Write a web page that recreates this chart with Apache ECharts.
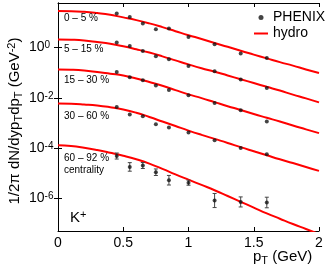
<!DOCTYPE html>
<html><head><meta charset="utf-8">
<script src="https://cdn.jsdelivr.net/npm/echarts@6/dist/echarts.min.js"></script>
<style>html,body{margin:0;padding:0;background:#fff}#c{width:327px;height:273px}</style>
</head><body><div id="c"></div>
<script>
// PHENIX K+ data (pT in GeV)
const ptData = [0.45, 0.55, 0.65, 0.75, 0.85, 1.0, 1.2, 1.4, 1.6];
const phenix_0_5   = [22.4, 16.4, 8.97, 5.33, 5.69, 2.64, 1.35, 0.578, 0.386];
const phenix_5_15  = [1.58, 1.16, 0.733, 0.451, 0.343, 0.186, 0.114, 0.0536, 0.0248];
const phenix_15_30 = [0.107, 0.0661, 0.0502, 0.0309, 0.0207, 0.0127, 0.0063, 0.00323, 0.00115];
const phenix_30_60 = [4.37e-3, 2.18e-3, 1.87e-3, 8.97e-4, 6.64e-4, 4.2e-4, 2.07e-4, 1.01e-4, 5.77e-5];
const phenix_60_92 = [4.89e-5, 1.80e-5, 2.05e-5, 1.11e-5, 5.35e-6, 4.26e-6, 8.34e-7, 7.35e-7, 6.95e-7];
const err60_92_lo  = [3.71e-5, 1.22e-5, 1.56e-5, 8.24e-6, 3.45e-6, 3.38e-6, 4.38e-7, 4.63e-7, 4.29e-7];
const err60_92_hi  = [6.44e-5, 2.67e-5, 2.70e-5, 1.50e-5, 8.28e-6, 5.36e-6, 1.59e-6, 1.16e-6, 1.13e-6];

// hydro curves
const ptHydro = [0,0.1,0.2,0.3,0.4,0.5,0.6,0.7,0.8,0.9,1.0,1.1,1.2,1.3,1.4,1.5,1.6,1.7,1.8,1.9,2.0];
const hydro_0_5   = [28.2, 27.9, 26.3, 23.4, 20.0, 15.8, 12.3, 9.12, 6.46, 4.47, 3.09, 2.19, 1.51, 1.07, 0.741, 0.525, 0.372, 0.263, 0.191, 0.135, 0.0977];
const hydro_5_15  = [2.09, 2.04, 1.91, 1.66, 1.41, 1.12, 0.851, 0.631, 0.447, 0.309, 0.214, 0.151, 0.110, 0.0776, 0.0550, 0.0389, 0.0275, 0.0195, 0.0135, 0.00955, 0.00661];
const hydro_15_30 = [0.135, 0.132, 0.123, 0.107, 0.0912, 0.0776, 0.0589, 0.0427, 0.0302, 0.0204, 0.0138, 0.00977, 0.00676, 0.00468, 0.00331, 0.00229, 0.00162, 0.00115, 7.94e-4, 5.62e-4, 3.98e-4];
const hydro_30_60 = [6.03e-3, 5.89e-3, 5.50e-3, 5.01e-3, 4.27e-3, 3.47e-3, 2.57e-3, 1.74e-3, 1.15e-3, 7.59e-4, 5.01e-4, 3.39e-4, 2.34e-4, 1.62e-4, 1.10e-4, 7.59e-5, 5.25e-5, 3.63e-5, 2.57e-5, 1.78e-5, 1.26e-5];
const hydro_60_92 = [1.32e-4, 1.23e-4, 1.05e-4, 8.51e-5, 6.61e-5, 5.01e-5, 3.63e-5, 2.45e-5, 1.51e-5, 9.12e-6, 5.62e-6, 3.47e-6, 2.14e-6, 1.26e-6, 7.41e-7, 4.37e-7, 2.57e-7, 1.58e-7, 9.77e-8, 6.17e-8, 3.89e-8];

// axes
const yTickValues = [1e-6, 1e-4, 1e-2, 1];
const yMin = 5.13e-8, yMax = 58.9;
const xMin = 0, xMax = 2, xInterval = 0.5;
const centralityLabels = ['0 – 5 %', '5 – 15 %', '15 – 30 %', '30 – 60 %', '60 – 92 %\ncentrality'];

const FONT = "'Liberation Sans', Arial, sans-serif";
const chart = echarts.init(document.getElementById('c'));

const phenixSets = [phenix_0_5, phenix_5_15, phenix_15_30, phenix_30_60, phenix_60_92];
const hydroSets = [hydro_0_5, hydro_5_15, hydro_15_30, hydro_30_60, hydro_60_92];

const series = [];
hydroSets.forEach(h => {
  series.push({
    name: 'hydro', type: 'line', xAxisIndex: 0, yAxisIndex: 0,
    data: ptHydro.map((x, i) => [x, h[i]]),
    showSymbol: false, symbol: 'none', smooth: true, clip: true,
    lineStyle: { color: '#ff0000', width: 2 }, itemStyle: { color: '#ff0000' }, z: 3
  });
});
series.push({
  name: 'err', type: 'custom', xAxisIndex: 0, yAxisIndex: 0,
  data: ptData.map((x, i) => [x, err60_92_lo[i], err60_92_hi[i]]),
  encode: { x: 0, y: [1, 2] }, z: 4,
  renderItem: function (params, api) {
    const x = api.value(0);
    const p1 = api.coord([x, api.value(1)]);
    const p2 = api.coord([x, api.value(2)]);
    const w = 2;
    const st = { stroke: '#444', lineWidth: 1 };
    return { type: 'group', children: [
      { type: 'line', shape: { x1: p1[0], y1: p1[1], x2: p2[0], y2: p2[1] }, style: st },
      { type: 'line', shape: { x1: p1[0] - w, y1: p1[1], x2: p1[0] + w, y2: p1[1] }, style: st },
      { type: 'line', shape: { x1: p2[0] - w, y1: p2[1], x2: p2[0] + w, y2: p2[1] }, style: st }
    ]};
  }
});
phenixSets.forEach(p => {
  series.push({
    name: 'PHENIX', type: 'scatter', xAxisIndex: 0, yAxisIndex: 0,
    data: ptData.map((x, i) => [x, p[i]]),
    symbol: 'circle', symbolSize: 4, itemStyle: { color: '#151515' }, z: 5
  });
});

const axisLineStyle = { show: true, lineStyle: { color: '#000', width: 1 } };
const yLabelRich = {
  b: { fontSize: 14, fontFamily: FONT, color: '#000', lineHeight: 14, padding: [6, 0, 0, 0], verticalAlign: 'bottom' },
  s: { fontSize: 10, fontFamily: FONT, color: '#000', lineHeight: 10, verticalAlign: 'top' }
};

const textRich = {
  sub: { fontSize: 11, fontFamily: FONT, color: '#000', lineHeight: 10, verticalAlign: 'bottom' },
  sup: { fontSize: 11, fontFamily: FONT, color: '#000', lineHeight: 10, verticalAlign: 'top' }
};

const labelY = [18.5, 49.3, 80, 116, 164];
const graphics = centralityLabels.map((t, i) => ({
  type: 'text', left: 64, top: labelY[i] - (i === 4 ? 12 : 6), z: 10,
  style: { text: t, font: '10px ' + FONT, fill: '#000', lineHeight: 12 }
}));
graphics.push({
  type: 'text', x: 15, y: 121, rotation: Math.PI / 2, z: 10,
  style: {
    text: '1/2π dN/dyp{sub|T}dp{sub|T} (GeV{sup|-2})',
    font: '15px ' + FONT, fill: '#000', align: 'center', verticalAlign: 'middle', lineHeight: 18,
    rich: textRich
  }
});
graphics.push({
  type: 'text', x: 253, y: 257, z: 10,
  style: {
    text: 'p{sub|T} (GeV)', font: '15px ' + FONT, fill: '#000', align: 'left', verticalAlign: 'middle', lineHeight: 18,
    rich: textRich
  }
});
graphics.push({
  type: 'text', x: 70, y: 218, z: 10,
  style: {
    text: 'K{sup|+}', font: '15px ' + FONT, fill: '#000', align: 'left', verticalAlign: 'middle', lineHeight: 18,
    rich: textRich
  }
});

chart.setOption({
  animation: false,
  backgroundColor: '#fff',
  grid: { left: 58, top: 3, width: 261, height: 228 },
  legend: {
    data: ['PHENIX', { name: 'hydro', itemStyle: { color: 'rgba(0,0,0,0)', borderWidth: 0 } }],
    orient: 'vertical', left: 248, top: 5,
    itemWidth: 14, itemHeight: 5, itemGap: 1,
    textStyle: { fontSize: 14, fontFamily: FONT, color: '#000', lineHeight: 15 }
  },
  xAxis: [
    { type: 'value', position: 'bottom', min: xMin, max: xMax, interval: xInterval,
      axisLine: axisLineStyle, splitLine: { show: false },
      axisTick: { show: true, inside: true, length: 4, lineStyle: { color: '#000' } },
      axisLabel: { show: true, fontSize: 14, fontFamily: FONT, color: '#000', margin: 5 } },
    { type: 'value', position: 'top', min: xMin, max: xMax, interval: xInterval,
      axisLine: axisLineStyle, splitLine: { show: false },
      axisTick: { show: true, inside: true, length: 4, lineStyle: { color: '#000' } },
      axisLabel: { show: false } }
  ],
  yAxis: [
    { type: 'log', position: 'left', min: yMin, max: yMax, logBase: 10,
      axisLine: axisLineStyle, splitLine: { show: false }, minorTick: { show: false },
      axisTick: { show: true, inside: true, length: 4, lineStyle: { color: '#000' }, customValues: yTickValues },
      axisLabel: { show: true, customValues: yTickValues, align: 'left', margin: 29,
        formatter: v => '{b|10}{s|' + Math.round(Math.log10(v)) + '}', rich: yLabelRich } },
    { type: 'log', position: 'right', min: yMin, max: yMax, logBase: 10,
      axisLine: axisLineStyle, splitLine: { show: false },
      axisTick: { show: true, inside: true, length: 4, lineStyle: { color: '#000' }, customValues: yTickValues },
      axisLabel: { show: false } }
  ],
  graphic: graphics,
  series: series
});
</script>
</body></html>
